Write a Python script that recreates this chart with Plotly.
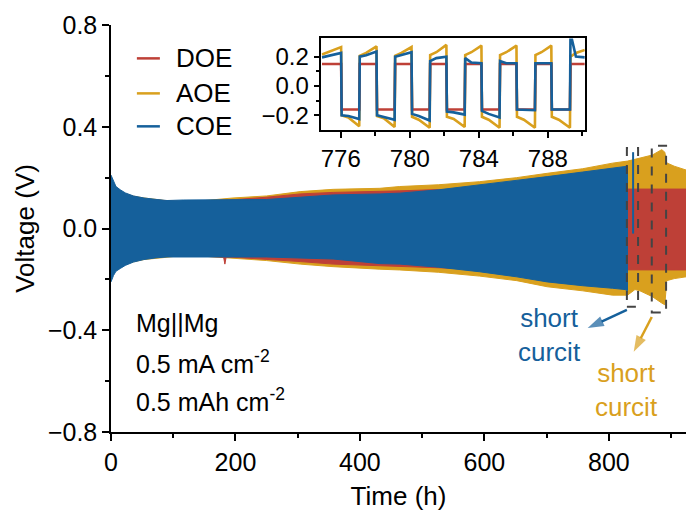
import plotly.graph_objects as go

# ---------------- main cycling data: voltage envelopes (V) vs time (h) ----------------
coe_t = [0, 2, 4, 8, 15, 23, 36, 53, 74, 90, 116, 143, 196, 250, 304, 357, 432, 464,
         526, 592, 652, 701, 758, 806, 826, 830]
coe_hi = [0.21, 0.20, 0.185, 0.165, 0.152, 0.14, 0.128, 0.12, 0.114, 0.11, 0.112, 0.112,
          0.112, 0.114, 0.123, 0.132, 0.136, 0.139, 0.152, 0.171, 0.188, 0.204, 0.222,
          0.237, 0.242, 0.245]
coe_lo = [-0.21, -0.20, -0.185, -0.168, -0.157, -0.145, -0.132, -0.122, -0.115, -0.112,
          -0.112, -0.112, -0.112, -0.112, -0.115, -0.12, -0.138, -0.14, -0.152, -0.17,
          -0.19, -0.21, -0.225, -0.235, -0.24, -0.245]

aoe_t = [0, 2, 5, 11, 15, 23, 36, 53, 74, 90, 114, 118, 143, 196, 250, 304, 357, 432,
         464, 526, 592, 652, 701, 758, 806, 830, 842, 850, 870, 885, 890, 893, 905, 924]
aoe_hi = [0.19, 0.185, 0.17, 0.155, 0.147, 0.137, 0.127, 0.12, 0.113, 0.109, 0.106, 0.10,
          0.108, 0.12, 0.128, 0.145, 0.154, 0.158, 0.165, 0.172, 0.184, 0.20, 0.217,
          0.235, 0.257, 0.265, 0.272, 0.276, 0.289, 0.31, 0.30, 0.258, 0.245, 0.23]
aoe_lo = [-0.19, -0.185, -0.17, -0.155, -0.15, -0.14, -0.131, -0.122, -0.116, -0.113,
          -0.106, -0.10, -0.108, -0.118, -0.126, -0.14, -0.15, -0.16, -0.163, -0.172,
          -0.187, -0.205, -0.229, -0.245, -0.262, -0.262, -0.24, -0.245, -0.268, -0.293,
          -0.30, -0.205, -0.197, -0.19]

doe_t = [0, 5, 15, 53, 116, 143, 181, 183, 185, 196, 250, 304, 357, 432, 464, 526, 592,
         701, 806, 842, 924]
doe_hi = [0.18, 0.15, 0.14, 0.115, 0.105, 0.108, 0.112, 0.112, 0.112, 0.113, 0.123,
          0.136, 0.142, 0.145, 0.148, 0.153, 0.155, 0.155, 0.155, 0.156, 0.155]
doe_lo = [-0.18, -0.15, -0.14, -0.115, -0.105, -0.108, -0.113, -0.14, -0.113, -0.113,
          -0.12, -0.13, -0.14, -0.148, -0.15, -0.155, -0.16, -0.162, -0.163, -0.163, -0.163]

# short-circuit spike of the COE cell
coe_spike_t = [839, 839]
coe_spike_v = [-0.02, 0.30]

# ---------------- inset: individual cycles 775-790 h ----------------
inset_edges = [774.88, 776.02, 777.07, 778.07, 779.12, 780.10, 781.15, 782.12, 783.18,
               784.15, 785.20, 786.18, 787.25, 788.20, 789.28, 790.14]
# (start, middle, end) voltage of every half cycle
aoe_half = [(0.215, 0.235, 0.265), (-0.20, -0.215, -0.275), (0.205, 0.225, 0.27),
            (-0.205, -0.22, -0.28), (0.205, 0.225, 0.265), (-0.21, -0.23, -0.285),
            (0.21, 0.23, 0.28), (-0.21, -0.225, -0.28), (0.21, 0.23, 0.275),
            (-0.21, -0.23, -0.285), (0.21, 0.23, 0.275), (-0.21, -0.23, -0.285),
            (0.21, 0.23, 0.275), (-0.21, -0.23, -0.285), (0.20, 0.225, 0.245)]
coe_half = [(0.195, 0.205, 0.225), (-0.20, -0.205, -0.225), (0.20, 0.21, 0.235),
            (-0.20, -0.21, -0.23), (0.20, 0.21, 0.23), (-0.19, -0.205, -0.235),
            (0.17, 0.19, 0.20), (-0.175, -0.18, -0.195), (0.19, 0.16, 0.155),
            (-0.17, -0.19, -0.215), (0.17, 0.155, 0.155), (-0.16, -0.16, -0.165),
            (0.155, 0.155, 0.155), (-0.16, -0.16, -0.16), (0.36, 0.20, 0.195)]
doe_half = [(0.15, 0.15, 0.15), (-0.16, -0.16, -0.16)] * 7 + [(0.15, 0.15, 0.15)]

# annotation arrows: (tail, head) in data units
blue_arrow_x, blue_arrow_y = [829, 766], [-0.32, -0.391]
gold_arrow_x, gold_arrow_y = [869, 840], [-0.348, -0.485]

RED = "#BE4037"
GOLD = "#D9A01E"
BLUE = "#15609B"
FONT = "Liberation Sans, Arial, sans-serif"


def band(t, hi, lo, color, name):
    return go.Scatter(x=list(t) + list(t)[::-1], y=list(hi) + list(lo)[::-1],
                      fill="toself", fillcolor=color, mode="lines",
                      line=dict(color=color, width=1), name=name,
                      showlegend=False, hoverinfo="skip", xaxis="x", yaxis="y")


def cycles(edges, halves):
    xs, ys = [], []
    for i, (s, m, e) in enumerate(halves):
        t0, t1 = edges[i], edges[i + 1]
        xs += [t0 + 0.03, t0 + 0.4 * (t1 - t0), t1]
        ys += [s, m, e]
    return xs, ys


fig = go.Figure()
fig.add_trace(band(aoe_t, aoe_hi, aoe_lo, GOLD, "AOE"))
fig.add_trace(band(doe_t, doe_hi, doe_lo, RED, "DOE"))
fig.add_trace(band(coe_t, coe_hi, coe_lo, BLUE, "COE"))
fig.add_trace(go.Scatter(x=coe_spike_t, y=coe_spike_v, mode="lines",
                         line=dict(color=BLUE, width=2), showlegend=False,
                         xaxis="x", yaxis="y"))

for ax_, ay_, col in [(blue_arrow_x, blue_arrow_y, BLUE), (gold_arrow_x, gold_arrow_y, GOLD)]:
    fig.add_trace(go.Scatter(x=ax_, y=ay_, mode="lines+markers",
                             line=dict(color=col, width=2.5),
                             marker=dict(symbol="arrow", size=[0, 17], angleref="previous",
                                         color=col, line=dict(width=0)),
                             showlegend=False, hoverinfo="skip", xaxis="x", yaxis="y"))

for halves, color in [(aoe_half, GOLD), (doe_half, RED), (coe_half, BLUE)]:
    xs, ys = cycles(inset_edges, halves)
    fig.add_trace(go.Scatter(x=xs, y=ys, mode="lines", line=dict(color=color, width=2.6),
                             showlegend=False, xaxis="x2", yaxis="y2"))

shapes = []
# dashed boxes marking the short circuits
for x0, x1, y0, y1 in [(829, 847, -0.308, 0.316), (869, 892, -0.33, 0.325)]:
    shapes.append(dict(type="rect", xref="x", yref="y", x0=x0, x1=x1, y0=y0, y1=y1,
                       line=dict(color="#444444", width=2, dash="dash")))

# hand-placed legend
legend_names = ["DOE", "AOE", "COE"]
legend_colors = [RED, GOLD, BLUE]
legend_y = [0.918, 0.832, 0.751]
annotations = []
for nm, col, yy in zip(legend_names, legend_colors, legend_y):
    shapes.append(dict(type="line", xref="paper", yref="paper", x0=0.045, x1=0.085,
                       y0=yy, y1=yy, line=dict(color=col, width=2.5)))
    annotations.append(dict(xref="paper", yref="paper", x=0.11, y=yy, text=nm,
                            showarrow=False, xanchor="left", yanchor="middle",
                            font=dict(size=26, color="black", family=FONT)))

# cell conditions
for txt, yy in [("Mg||Mg", 0.267), ("0.5 mA cm<sup>-2</sup>", 0.172),
                ("0.5 mAh cm<sup>-2</sup>", 0.079)]:
    annotations.append(dict(xref="paper", yref="paper", x=0.04, y=yy, text=txt,
                            showarrow=False, xanchor="left", yanchor="middle",
                            font=dict(size=25, color="black", family=FONT)))

# short-circuit labels
annotations.append(dict(xref="x", yref="y", x=705, y=-0.419, text="short<br>curcit",
                        showarrow=False, font=dict(size=26, color=BLUE, family=FONT),
                        align="center"))
annotations.append(dict(xref="x", yref="y", x=829, y=-0.635, text="short<br>curcit",
                        showarrow=False, font=dict(size=26, color=GOLD, family=FONT),
                        align="center"))

axis_common = dict(showgrid=False, zeroline=False, showline=True, linecolor="black",
                   linewidth=1.5, ticks="outside", tickcolor="black", tickwidth=1.5,
                   tickfont=dict(size=25, color="black", family=FONT))

fig.update_layout(
    width=686, height=514,
    margin=dict(l=111, r=0, t=25, b=82),
    paper_bgcolor="white", plot_bgcolor="white",
    showlegend=False,
    font=dict(family=FONT, color="black"),
    xaxis=dict(**axis_common, range=[0, 924], tick0=0, dtick=200, ticklen=7,
               minor=dict(dtick=100, ticklen=4, ticks="outside", tickcolor="black",
                          tickwidth=1.5),
               title=dict(text="Time (h)", font=dict(size=26, family=FONT), standoff=12),
               domain=[0, 1]),
    yaxis=dict(**axis_common, range=[-0.8, 0.8], tick0=-0.8, dtick=0.4, ticklen=7,
               tickformat=".1f",
               minor=dict(dtick=0.2, ticklen=4, ticks="outside", tickcolor="black",
                          tickwidth=1.5),
               title=dict(text="Voltage (V)", font=dict(size=26, family=FONT), standoff=6),
               domain=[0, 1]),
    xaxis2=dict(**axis_common, range=[774.88, 790.14], domain=[0.366, 0.824],
                anchor="y2", mirror=True, tickvals=[776, 780, 784, 788], ticklen=6,
                minor=dict(tickvals=[778, 782, 786, 790], ticklen=4, ticks="outside",
                           tickcolor="black", tickwidth=1.5)),
    yaxis2=dict(**axis_common, range=[-0.30, 0.324], domain=[0.742, 0.967],
                anchor="x2", mirror=True, tickvals=[-0.2, 0.0, 0.2], tickformat=".1f",
                ticklen=6,
                minor=dict(tickvals=[-0.1, 0.1], ticklen=4, ticks="outside",
                           tickcolor="black", tickwidth=1.5)),
    shapes=shapes,
    annotations=annotations,
)
fig.update_layout(xaxis2_tickfont_size=24, yaxis2_tickfont_size=24)

fig.write_html("out.html")
